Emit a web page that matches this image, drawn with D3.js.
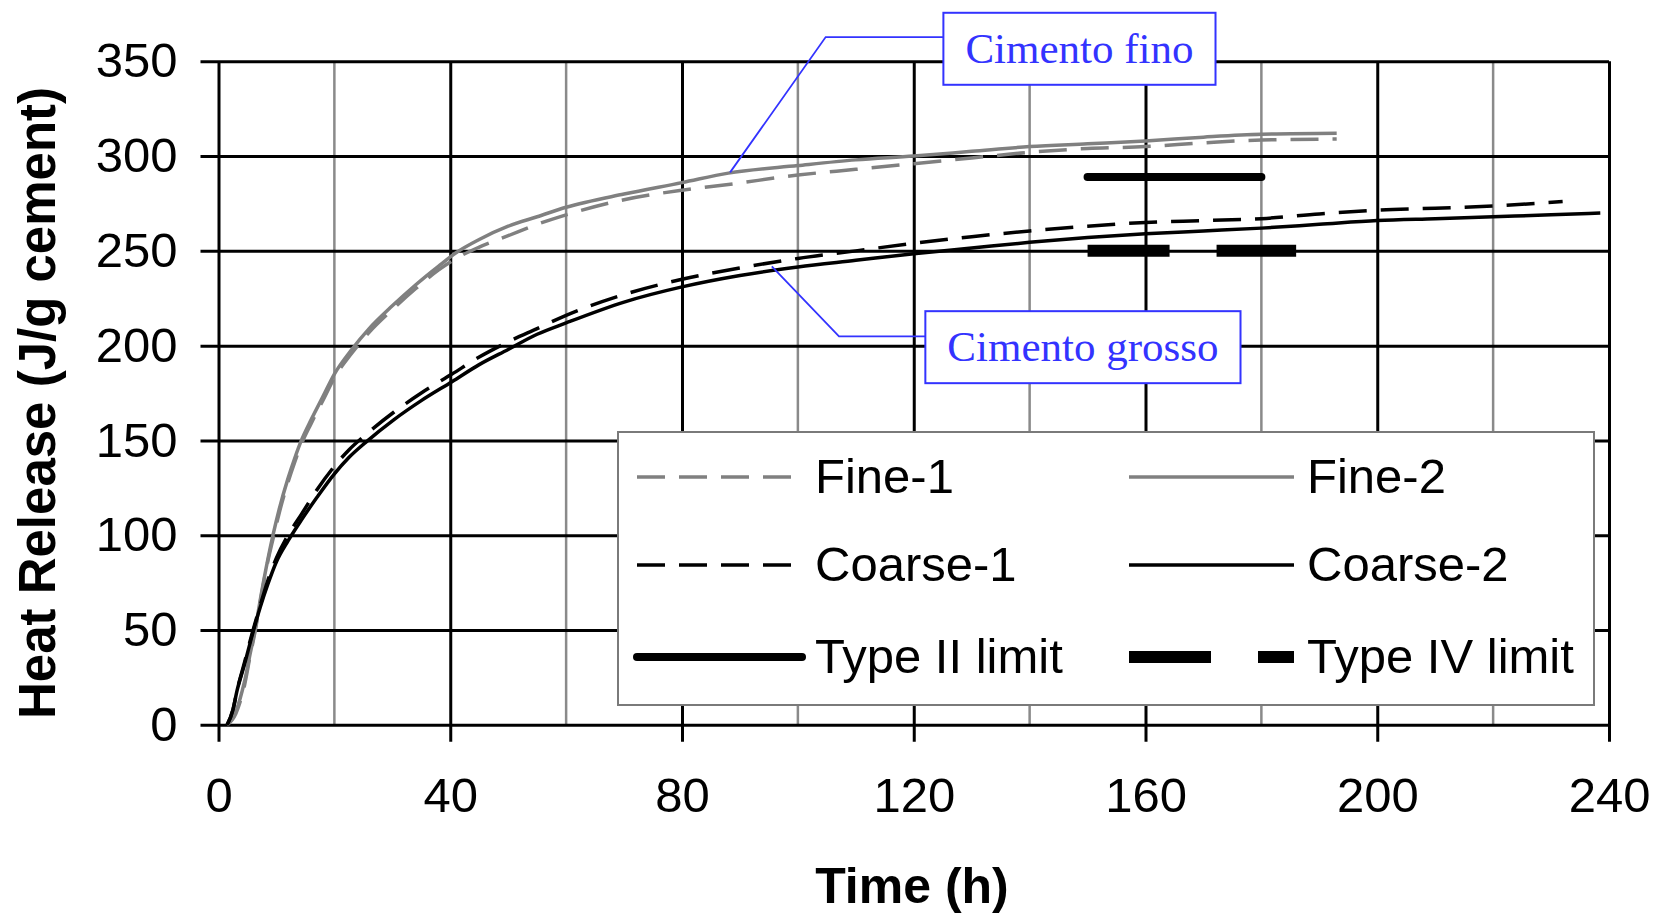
<!DOCTYPE html>
<html>
<head>
<meta charset="utf-8">
<script src="https://cdn.jsdelivr.net/npm/d3@7"></script>
<style>
  body { margin: 0; background: #fff; }
  svg { display: block; }
</style>
</head>
<body>
<div id="chart"></div>
<script>
// Heat release of fine vs coarse cement over time, with ASTM Type II / IV limits.

const xTicks = [0, 40, 80, 120, 160, 200, 240];
const xMinor = [20, 60, 100, 140, 180, 220];
const yTicks = [0, 50, 100, 150, 200, 250, 300, 350];

// [time (h), heat (J/g)]
const fine1 = [[1.5,0],[3,6],[4.5,21],[5.5,37],[6.3,49],[7.5,70],[8.5,86],[9.4,98],[10.5,112],[12,128],[13.2,139],[14.3,148],[16,159],[18,171],[20,183],[23,196],[26,207],[30,219],[34,230],[38,240],[41,246],[45,252],[50,258],[55,264],[60,269],[70,277],[80,282],[88,285],[100,290],[110,293],[120,296],[130,299],[140,302],[150,304],[160,305],[170,307],[180,308.5],[193,309]];
const fine2 = [[1.5,0],[3,7],[4.5,23],[5.5,38],[6.3,50],[7.5,71],[8.5,87],[9.4,100],[10.5,114],[12,130],[13.2,141],[14.3,150],[16,161],[18,173],[20,185],[23,198],[26,209],[30,221],[34,232],[38,242],[41,249],[45,256],[50,263],[55,268],[60,273],[70,280],[80,286],[88,291],[100,295],[110,298],[120,300],[130,302.5],[140,305],[150,306.5],[160,308],[170,310],[180,311.5],[193,312]];
const coarse1 = [[1.5,0],[2.5,8],[3.2,18],[4.5,33],[5.7,47],[7.2,63],[8.5,76],[10,88],[12,100],[14.3,111],[17,124],[19.9,136],[22.5,145],[25.4,153],[30.3,165],[35,175],[40.3,185],[45,194],[50,202],[55,209],[60,216],[70,227],[80,235],[90,241],[100,246],[110,250],[120,254],[130,257.5],[140,260.5],[150,263],[160,265],[170,266],[180,267],[190,269.5],[200,271.5],[210,272.5],[220,273.7],[232,276]];
const coarse2 = [[1.5,0],[2.5,8],[3.2,18],[4.5,32],[5.7,46],[7.2,62],[8.5,74],[10,86],[12,97],[14.3,108],[17,120],[19.9,132],[22.5,141],[25.4,149],[30.3,161],[35,171],[40.3,181],[45,190],[50,198],[55,206],[60,212],[70,223],[80,231],[90,237],[100,241.5],[110,245],[120,248.5],[130,251.5],[140,254.5],[150,257],[160,259],[170,260.5],[180,262],[190,264],[200,266],[210,267],[220,268],[230,269],[238.5,270]];
const typeII = [[150,289],[180,289]];
const typeIV = [[150,250],[186,250]];

const legendLabels = ["Fine-1", "Fine-2", "Coarse-1", "Coarse-2", "Type II limit", "Type IV limit"];

// callouts: label, box centre, elbow, tip (data coordinates)
const noteLabels = ["Cimento fino", "Cimento grosso"];
const noteBox = [[148.6, 356.6], [149.2, 199.2]];
const noteElbow = [[104.8, 362.8], [107.1, 204.9]];
const noteTip = [[88.3, 291.4], [95.5, 241.8]];

const W = 1659, H = 917;
const GREY = "#808080";
const BLUE = "#3333ff";
const SANS = "'Liberation Sans', Arial, sans-serif";

const svg = d3.select("#chart").append("svg").attr("width", W).attr("height", H);

const x = d3.scaleLinear().domain([0, 240]).range([218.5, 1609]);
const y = d3.scaleLinear().domain([0, 350]).range([724.8, 61.3]);

// minor vertical grid (grey)
svg.append("g")
  .selectAll("line")
  .data(xMinor)
  .join("line")
  .attr("x1", (d) => x(d)).attr("x2", (d) => x(d))
  .attr("y1", y(0)).attr("y2", y(350))
  .attr("stroke", "#8a8a8a")
  .attr("stroke-width", 2.5);

// y axis: gridlines run across the plot and stick out as ticks on the left
svg.append("g")
  .attr("transform", `translate(${x(240)},0)`)
  .call(d3.axisLeft(y).tickValues(yTicks).tickSize(x(240) - x(0) + 18).tickPadding(23))
  .call((g) => g.select(".domain").remove())
  .call((g) => g.selectAll(".tick line").attr("stroke", "#000").attr("stroke-width", 3))
  .call((g) => g.selectAll(".tick text").attr("fill", "#000").attr("font-size", 49).attr("font-family", SANS));

// x axis: same idea, ticks below the plot
svg.append("g")
  .attr("transform", `translate(0,${y(350)})`)
  .call(d3.axisBottom(x).tickValues(xTicks).tickSize(y(0) - y(350) + 17).tickPadding(35))
  .call((g) => g.select(".domain").remove())
  .call((g) => g.selectAll(".tick line").attr("stroke", "#000").attr("stroke-width", 3))
  .call((g) => g.selectAll(".tick text").attr("fill", "#000").attr("font-size", 49).attr("font-family", SANS));

// axis titles
svg.append("text")
  .attr("transform", `translate(55,403) rotate(-90)`)
  .attr("text-anchor", "middle")
  .attr("font-family", SANS).attr("font-weight", "bold").attr("font-size", 51)
  .text("Heat Release (J/g cement)");

svg.append("text")
  .attr("x", 912).attr("y", 903)
  .attr("text-anchor", "middle")
  .attr("font-family", SANS).attr("font-weight", "bold").attr("font-size", 50)
  .text("Time (h)");

// series
const line = d3.line().x((d) => x(d[0])).y((d) => y(d[1])).curve(d3.curveMonotoneX);
const series = [
  { data: fine1, color: GREY, width: 3.5, dash: "28,14" },
  { data: fine2, color: GREY, width: 3.5, dash: null },
  { data: coarse1, color: "#000", width: 3.5, dash: "28,14" },
  { data: coarse2, color: "#000", width: 3.5, dash: null },
  { data: typeII, color: "#000", width: 8, dash: null, cap: "round" },
  { data: typeIV, color: "#000", width: 12, dash: "82,47" },
];

svg.append("g")
  .selectAll("path")
  .data(series)
  .join("path")
  .attr("d", (d) => line(d.data))
  .attr("fill", "none")
  .attr("stroke", (d) => d.color)
  .attr("stroke-width", (d) => d.width)
  .attr("stroke-dasharray", (d) => d.dash)
  .attr("stroke-linecap", (d) => d.cap || "butt");

// legend
const lg = svg.append("g");
lg.append("rect")
  .attr("x", 618).attr("y", 432).attr("width", 976).attr("height", 273)
  .attr("fill", "#fff").attr("stroke", "#7a7a7a").attr("stroke-width", 2);

const rowY = [477, 565, 657];
const colX = [637, 1129];
series.forEach((s, i) => {
  const cx = colX[i % 2], ry = rowY[Math.floor(i / 2)];
  lg.append("line")
    .attr("x1", cx).attr("x2", cx + 165)
    .attr("y1", ry).attr("y2", ry)
    .attr("stroke", s.color)
    .attr("stroke-width", s.width)
    .attr("stroke-dasharray", s.dash)
    .attr("stroke-linecap", s.cap || "butt");
  lg.append("text")
    .attr("x", cx + 178).attr("y", ry - 2)
    .attr("dy", "0.36em")
    .attr("font-family", SANS).attr("font-size", 49)
    .text(legendLabels[i]);
});

// callouts
noteLabels.forEach((label, i) => {
  const g = svg.append("g");
  const bx = x(noteBox[i][0]), by = y(noteBox[i][1]);
  const t = g.append("text")
    .attr("x", bx).attr("y", by)
    .attr("dy", "0.33em")
    .attr("text-anchor", "middle")
    .attr("font-family", "'Liberation Serif', 'Times New Roman', serif")
    .attr("font-size", 43)
    .attr("fill", BLUE)
    .text(label);
  const tw = t.node().getComputedTextLength();
  const bw = tw + 44, bh = 72;
  g.insert("rect", "text")
    .attr("x", bx - bw / 2).attr("y", by - bh / 2)
    .attr("width", bw).attr("height", bh)
    .attr("fill", "#fff").attr("stroke", BLUE).attr("stroke-width", 2);
  const ex = x(noteElbow[i][0]), ey = y(noteElbow[i][1]);
  g.insert("path", "rect")
    .attr("d", `M${x(noteTip[i][0])},${y(noteTip[i][1])}L${ex},${ey}L${bx - bw / 2},${ey}`)
    .attr("fill", "none").attr("stroke", BLUE).attr("stroke-width", 1.8);
});
</script>
</body>
</html>
